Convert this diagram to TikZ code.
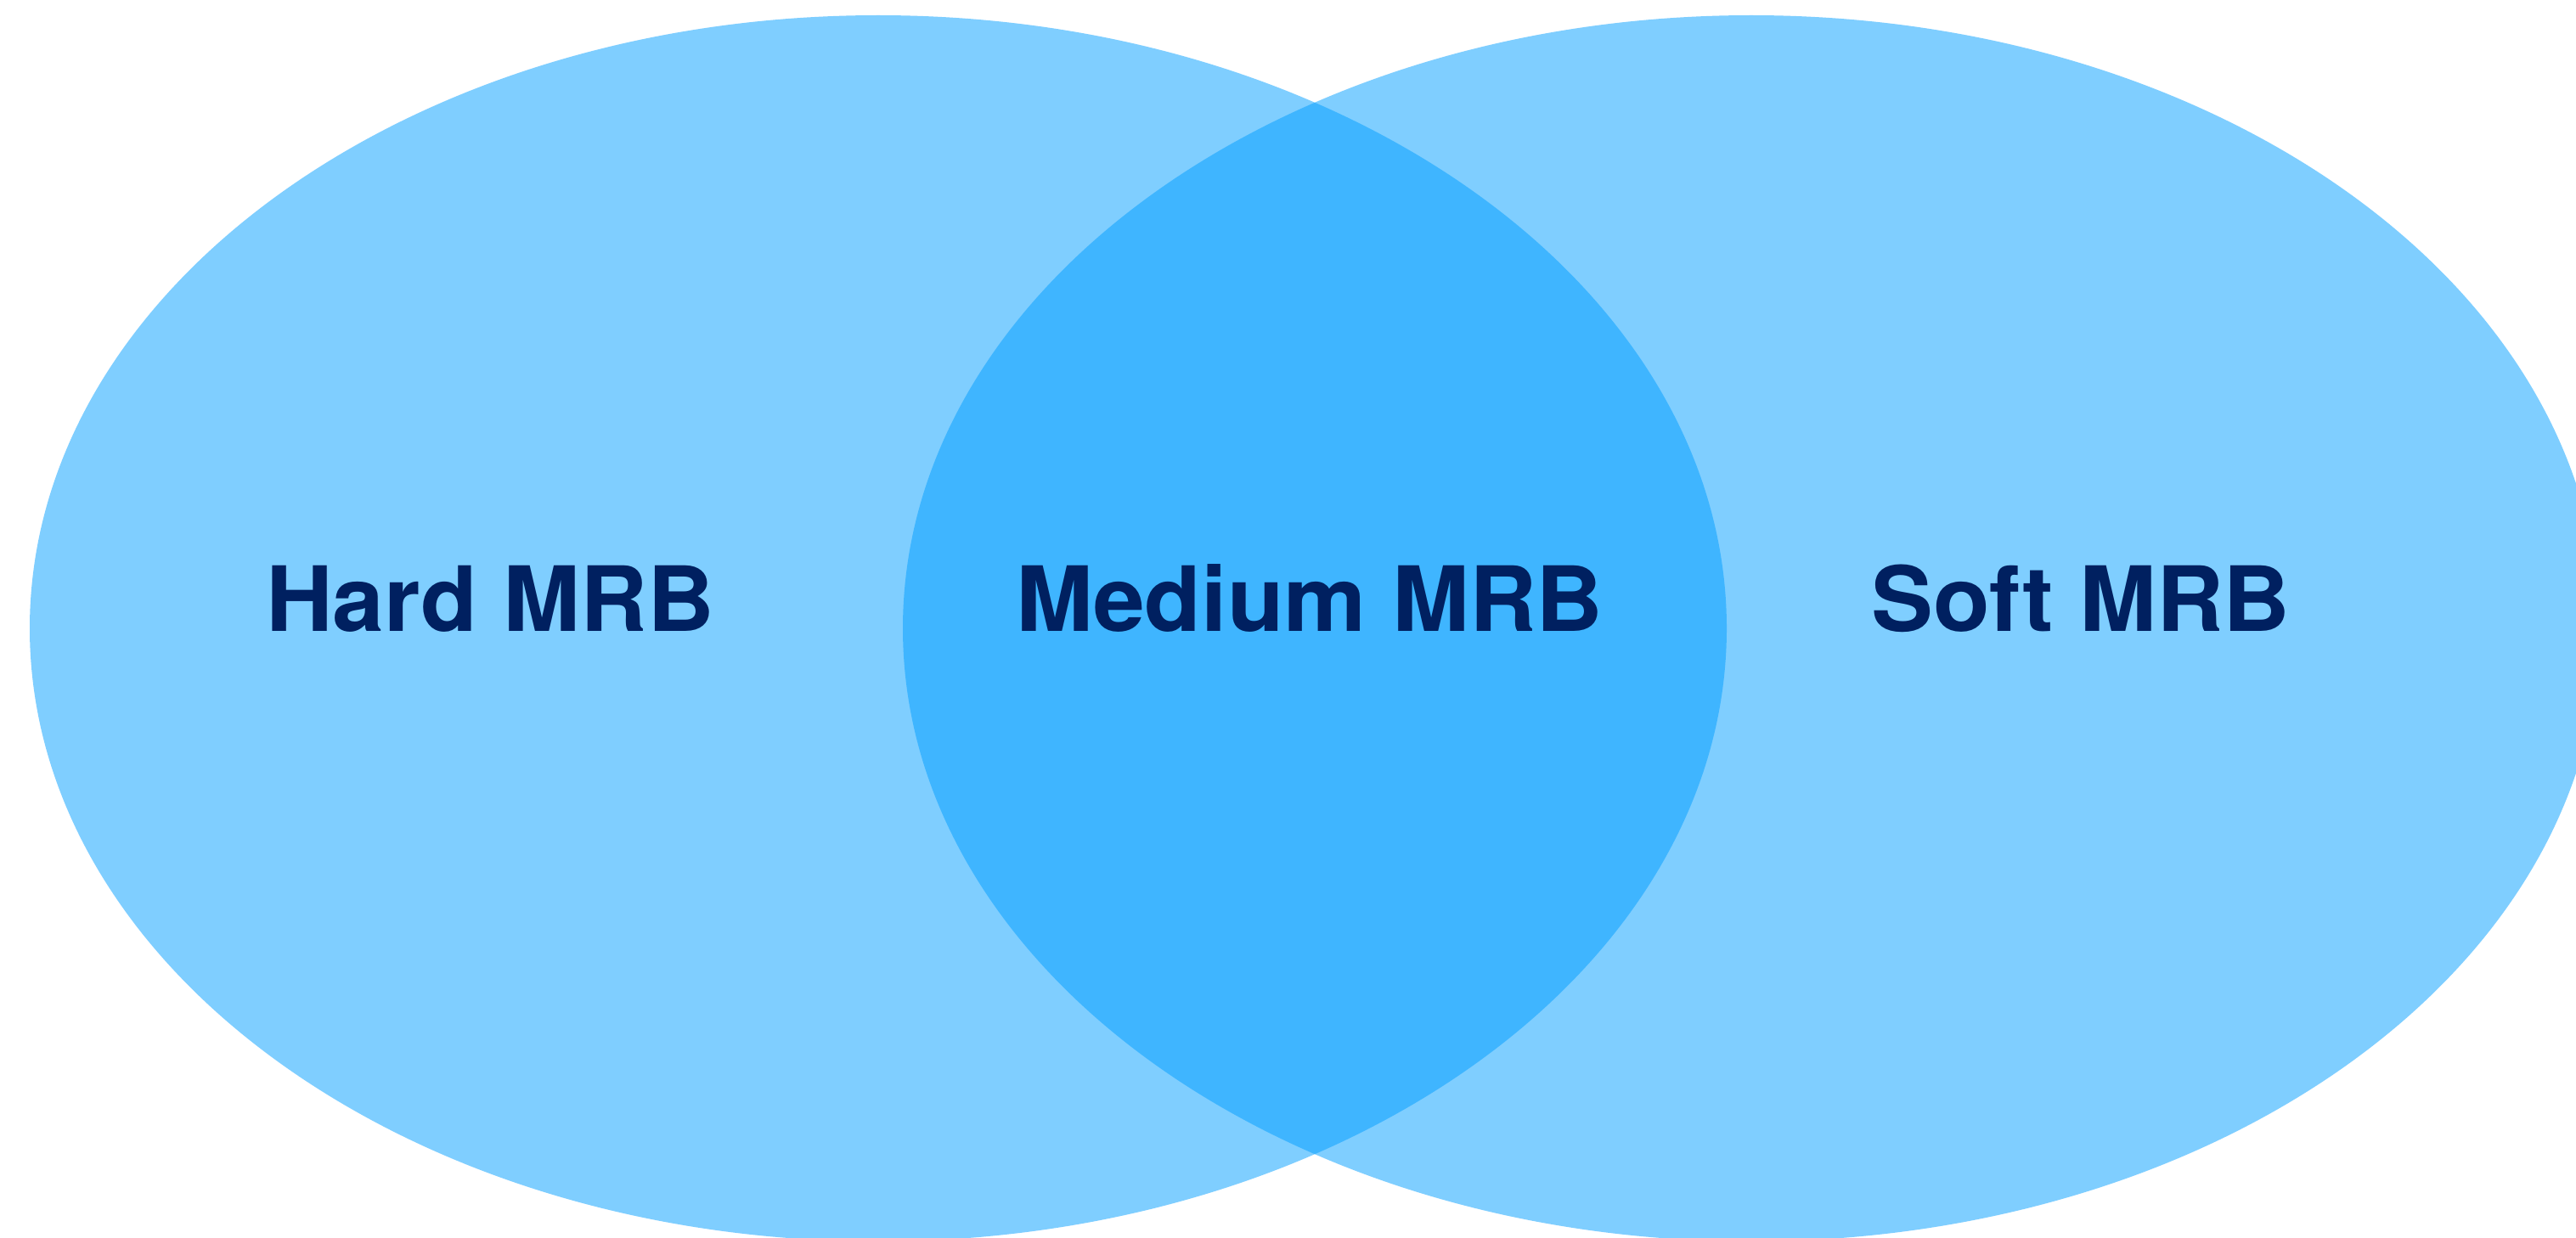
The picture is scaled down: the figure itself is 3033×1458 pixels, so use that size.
\documentclass[tikz,border=0pt]{standalone}
\usepackage{fontspec}
\setmainfont{TeX Gyre Heros}
\definecolor{vennblue}{RGB}{0,158,255}
\definecolor{labelnavy}{RGB}{0,32,96}
\begin{document}
\begin{tikzpicture}[x=1pt,y=-1pt,
  venn/.style={fill=vennblue,fill opacity=0.5},
  lbl/.style={anchor=base,text=labelnavy,inner sep=0pt,
    font=\fontsize{106}{120}\selectfont\bfseries,xscale=1.03,transform shape}]
\useasboundingbox (0,0) rectangle (3033,1458);
\clip (0,0) rectangle (3033,1458);
\fill[white] (0,0) rectangle (3033,1458);
\fill[venn] (1034,740) ellipse [x radius=999, y radius=722];
\fill[venn] (2062,740) ellipse [x radius=999, y radius=722];
\node[lbl] (hard) at (577,743) {Hard MRB};
\node[lbl] (medium) at (1542,743) {Medium MRB};
\node[lbl] (soft) at (2450,743) {Soft MRB};
\end{tikzpicture}
\end{document}
